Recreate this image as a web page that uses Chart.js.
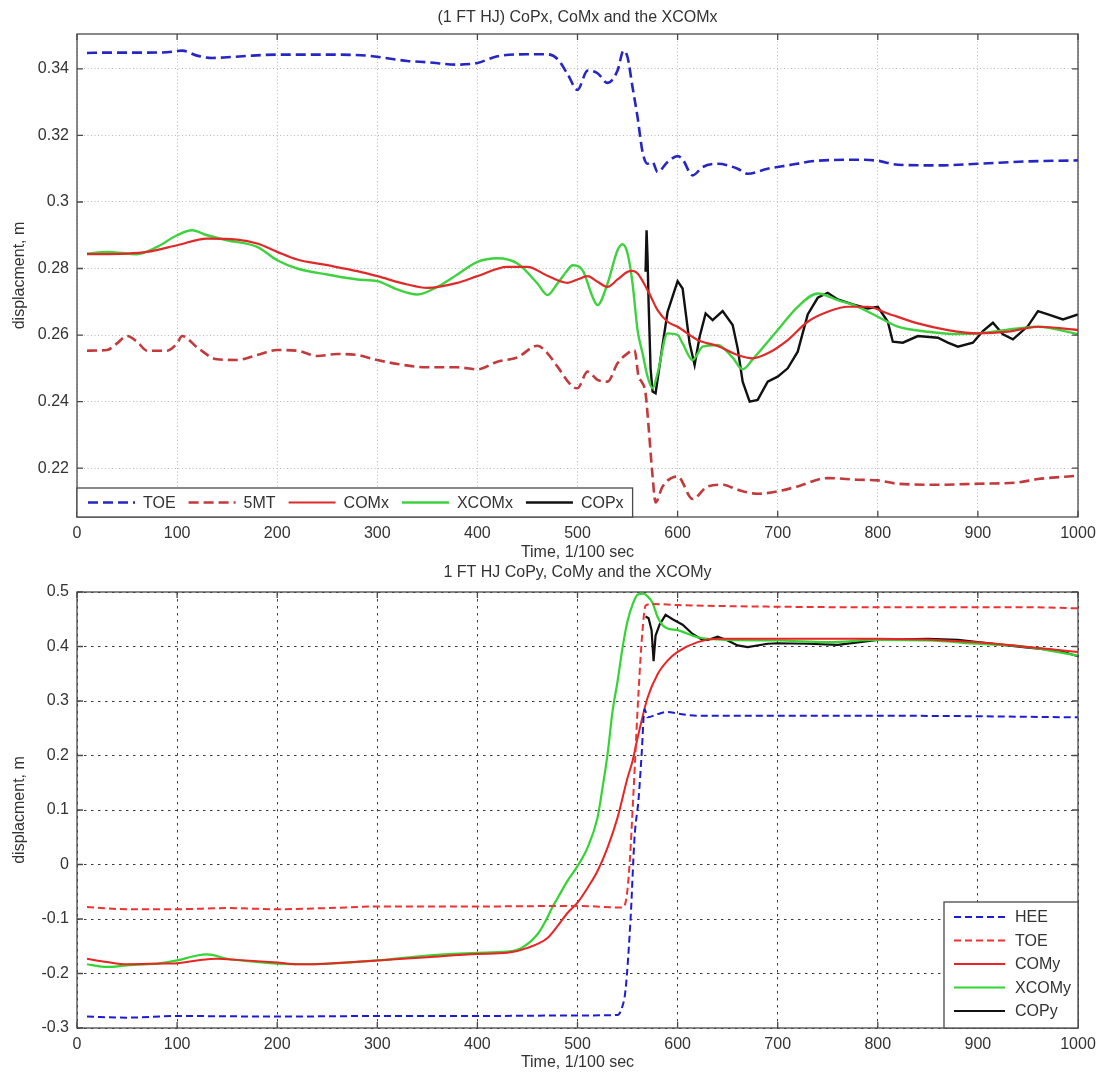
<!DOCTYPE html>
<html>
<head>
<meta charset="utf-8">
<title>CoP / CoM / XCoM displacement</title>
<script src="https://cdn.jsdelivr.net/npm/chart.js@4.4.1/dist/chart.umd.min.js"></script>
<style>
  html, body { margin: 0; padding: 0; background: #fff; }
  #wrap { position: relative; width: 1102px; height: 1072px; }
  canvas { position: absolute; left: 0; }
  #topChart { top: 0; }
  #bottomChart { top: 562px; }
</style>
</head>
<body>
<div id="wrap">
  <canvas id="topChart" width="1102" height="562"></canvas>
  <canvas id="bottomChart" width="1102" height="510"></canvas>
</div>
<script>
// ---- shared axis ----
const timeTicks = [0, 100, 200, 300, 400, 500, 600, 700, 800, 900, 1000];

// ---- top plot: x displacement ----
const topTicks = [0.22, 0.24, 0.26, 0.28, 0.30, 0.32, 0.34];

const toeXt = [10, 30, 60, 90, 105, 120, 135, 150, 175, 200, 250, 290, 310, 330, 350, 380, 400, 420, 450, 470, 480, 490, 500, 510, 520, 530, 540, 546, 550, 555, 560, 565, 570, 575, 580, 590, 600, 605, 615, 625, 640, 660, 670, 690, 710, 740, 780, 800, 820, 860, 900, 950, 1000];
const toeXv = [0.3448, 0.3449, 0.3449, 0.3450, 0.3455, 0.3440, 0.3433, 0.3435, 0.3440, 0.3443, 0.3443, 0.3440, 0.3432, 0.3424, 0.3420, 0.3413, 0.3418, 0.3438, 0.3444, 0.3444, 0.3430, 0.3385, 0.3337, 0.3395, 0.3387, 0.3358, 0.3395, 0.3455, 0.3435, 0.3345, 0.3255, 0.3150, 0.3115, 0.3120, 0.3090, 0.3120, 0.3138, 0.3128, 0.3080, 0.3105, 0.3115, 0.3100, 0.3085, 0.3100, 0.3110, 0.3124, 0.3127, 0.3124, 0.3112, 0.3110, 0.3115, 0.3122, 0.3125];

const mt5t = [10, 30, 40, 50, 60, 70, 90, 100, 105, 120, 140, 160, 180, 200, 220, 240, 260, 280, 300, 320, 350, 380, 400, 420, 440, 460, 470, 480, 495, 500, 510, 520, 530, 540, 550, 557, 561, 564, 568, 571, 575, 578, 585, 600, 615, 630, 645, 660, 680, 700, 720, 750, 780, 800, 820, 860, 900, 940, 960, 1000];
const mt5v = [0.2553, 0.2555, 0.2575, 0.2597, 0.2580, 0.2553, 0.2553, 0.2575, 0.2597, 0.2563, 0.2527, 0.2525, 0.2540, 0.2555, 0.2553, 0.2537, 0.2543, 0.2540, 0.2525, 0.2513, 0.2503, 0.2503, 0.2497, 0.2520, 0.2533, 0.2568, 0.2545, 0.2505, 0.2445, 0.2440, 0.2490, 0.2465, 0.2460, 0.2515, 0.2545, 0.2555, 0.2475, 0.2460, 0.2425, 0.2325, 0.2175, 0.2097, 0.2145, 0.2175, 0.2107, 0.2145, 0.2150, 0.2135, 0.2123, 0.2130, 0.2145, 0.2170, 0.2165, 0.2163, 0.2153, 0.2150, 0.2153, 0.2157, 0.2167, 0.2177];

const comXt = [10, 50, 70, 100, 130, 160, 180, 200, 220, 250, 280, 300, 330, 350, 380, 400, 430, 450, 470, 490, 500, 510, 520, 530, 540, 550, 555, 560, 570, 580, 590, 600, 620, 640, 660, 675, 690, 710, 730, 750, 770, 790, 810, 840, 870, 900, 930, 960, 1000];
const comXv = [0.2843, 0.2845, 0.2850, 0.2870, 0.2890, 0.2887, 0.2875, 0.2850, 0.2827, 0.2810, 0.2792, 0.2777, 0.2752, 0.2742, 0.2757, 0.2777, 0.2805, 0.2805, 0.2778, 0.2757, 0.2767, 0.2777, 0.2760, 0.2745, 0.2767, 0.2790, 0.2793, 0.2785, 0.2735, 0.2675, 0.2640, 0.2625, 0.2585, 0.2567, 0.2540, 0.2530, 0.2545, 0.2585, 0.2640, 0.2670, 0.2685, 0.2685, 0.2665, 0.2635, 0.2615, 0.2605, 0.2610, 0.2625, 0.2615];

const xcomXt = [10, 30, 60, 80, 100, 115, 130, 150, 180, 200, 220, 250, 280, 300, 320, 340, 360, 380, 400, 420, 440, 460, 470, 480, 490, 495, 505, 515, 520, 530, 540, 545, 550, 555, 560, 565, 570, 575, 580, 590, 600, 605, 615, 625, 640, 655, 665, 675, 700, 720, 740, 760, 780, 800, 820, 850, 880, 900, 940, 960, 1000];
const xcomXv = [0.2845, 0.2850, 0.2843, 0.2865, 0.2900, 0.2915, 0.2900, 0.2885, 0.2865, 0.2825, 0.2800, 0.2782, 0.2767, 0.2762, 0.2737, 0.2722, 0.2745, 0.2782, 0.2820, 0.2831, 0.2815, 0.2755, 0.2720, 0.2755, 0.2795, 0.2810, 0.2795, 0.2715, 0.2690, 0.2755, 0.2855, 0.2873, 0.2845, 0.2755, 0.2615, 0.2545, 0.2475, 0.2440, 0.2485, 0.2605, 0.2600, 0.2575, 0.2525, 0.2565, 0.2570, 0.2532, 0.2497, 0.2527, 0.2615, 0.2685, 0.2725, 0.2705, 0.2685, 0.2655, 0.2625, 0.2610, 0.2603, 0.2605, 0.2620, 0.2625, 0.2603];

const copXt = [568, 569, 570, 571, 573, 575, 578, 585, 590, 600, 605, 612, 617, 622, 628, 635, 645, 655, 660, 665, 672, 680, 690, 700, 710, 720, 730, 740, 750, 760, 775, 790, 800, 810, 815, 825, 840, 860, 870, 880, 895, 905, 915, 925, 935, 950, 960, 970, 985, 1000];
const copXv = [0.2790, 0.2915, 0.2830, 0.2700, 0.2500, 0.2430, 0.2425, 0.2570, 0.2670, 0.2762, 0.2740, 0.2575, 0.2510, 0.2595, 0.2665, 0.2645, 0.2672, 0.2630, 0.2560, 0.2460, 0.2400, 0.2405, 0.2460, 0.2475, 0.2500, 0.2550, 0.2662, 0.2712, 0.2727, 0.2707, 0.2692, 0.2680, 0.2685, 0.2640, 0.2580, 0.2577, 0.2597, 0.2592, 0.2577, 0.2565, 0.2577, 0.2612, 0.2637, 0.2602, 0.2587, 0.2627, 0.2672, 0.2662, 0.2647, 0.2662];

// ---- bottom plot: y displacement ----
const bottomTicks = [-0.3, -0.2, -0.1, 0, 0.1, 0.2, 0.3, 0.4, 0.5];

const heeT = [10, 50, 100, 200, 300, 400, 500, 540, 544, 548, 553, 557, 561, 564, 567, 570, 580, 590, 600, 620, 700, 800, 900, 1000];
const heeV = [-0.279, -0.281, -0.278, -0.279, -0.278, -0.278, -0.277, -0.276, -0.265, -0.23, -0.10, 0.05, 0.12, 0.20, 0.285, 0.27, 0.276, 0.280, 0.277, 0.273, 0.273, 0.273, 0.272, 0.270];

const toeYt = [10, 50, 100, 150, 200, 250, 300, 400, 500, 545, 549, 552, 556, 561, 565, 568, 575, 600, 700, 800, 900, 950, 1000];
const toeYv = [-0.078, -0.082, -0.082, -0.080, -0.082, -0.080, -0.077, -0.077, -0.076, -0.079, -0.06, 0.0, 0.135, 0.318, 0.43, 0.475, 0.478, 0.476, 0.473, 0.472, 0.472, 0.472, 0.470];

const comYt = [10, 30, 50, 80, 100, 120, 140, 160, 200, 220, 250, 300, 350, 400, 430, 450, 470, 480, 490, 500, 510, 520, 530, 540, 550, 555, 560, 570, 580, 590, 600, 620, 640, 700, 800, 900, 950, 1000];
const comYv = [-0.173, -0.179, -0.183, -0.182, -0.181, -0.176, -0.173, -0.175, -0.180, -0.183, -0.182, -0.176, -0.170, -0.164, -0.162, -0.153, -0.135, -0.113, -0.089, -0.070, -0.043, -0.012, 0.031, 0.086, 0.159, 0.19, 0.232, 0.306, 0.349, 0.374, 0.390, 0.408, 0.414, 0.414, 0.414, 0.408, 0.399, 0.390];

const xcomYt = [10, 30, 50, 80, 100, 120, 130, 150, 180, 200, 230, 250, 300, 350, 400, 430, 445, 460, 470, 475, 480, 490, 500, 510, 520, 525, 530, 535, 540, 545, 550, 555, 560, 566, 570, 575, 580, 585, 590, 600, 620, 650, 700, 750, 800, 850, 900, 950, 1000];
const xcomYv = [-0.183, -0.188, -0.185, -0.182, -0.176, -0.167, -0.165, -0.173, -0.179, -0.182, -0.183, -0.182, -0.176, -0.167, -0.162, -0.160, -0.152, -0.128, -0.097, -0.078, -0.062, -0.030, -0.003, 0.031, 0.086, 0.141, 0.202, 0.281, 0.336, 0.398, 0.447, 0.477, 0.495, 0.497, 0.492, 0.480, 0.454, 0.439, 0.433, 0.430, 0.417, 0.412, 0.411, 0.408, 0.412, 0.411, 0.405, 0.399, 0.383];

const copYt = [568, 571, 574, 576, 578, 582, 588, 595, 605, 615, 625, 630, 640, 650, 660, 670, 690, 700, 730, 760, 800, 850, 880, 900, 950, 980, 1000];
const copYv = [0.455, 0.452, 0.43, 0.373, 0.42, 0.44, 0.458, 0.450, 0.440, 0.423, 0.412, 0.412, 0.418, 0.411, 0.402, 0.399, 0.405, 0.406, 0.405, 0.403, 0.412, 0.414, 0.412, 0.408, 0.398, 0.393, 0.382];

const FONT = '"Liberation Sans", Arial, sans-serif';
const TEXT = '#333';
const FS = 16;
Chart.defaults.font.family = FONT;
Chart.defaults.color = TEXT;

function pts(xs, ys) {
    return xs.map((x, i) => ({ x: x, y: ys[i] }));
}

function series(label, xs, ys, color, width, dash, monotone) {
    return {
        label: label,
        data: pts(xs, ys),
        borderColor: color,
        borderWidth: width,
        borderDash: dash || [],
        pointRadius: 0,
        fill: false,
        cubicInterpolationMode: monotone === false ? 'default' : 'monotone',
        tension: monotone === false ? 0 : 0.4,
    };
}

const fmt = v => String(+Number(v).toFixed(3));

// frame, inward ticks, centred title and a MATLAB-like legend box
const framePlugin = {
    id: 'frame',
    afterDraw(chart, args, opts) {
        const { ctx, chartArea: a } = chart;
        const sx = chart.scales.x, sy = chart.scales.y;
        ctx.save();
        ctx.strokeStyle = '#4a4a4a';
        ctx.lineWidth = 1.3;
        ctx.setLineDash([]);
        ctx.strokeRect(a.left, a.top, a.right - a.left, a.bottom - a.top);
        ctx.beginPath();
        sx.ticks.forEach(t => {
            const p = sx.getPixelForValue(t.value);
            ctx.moveTo(p, a.bottom); ctx.lineTo(p, a.bottom - 6);
            ctx.moveTo(p, a.top); ctx.lineTo(p, a.top + 6);
        });
        sy.ticks.forEach(t => {
            const p = sy.getPixelForValue(t.value);
            ctx.moveTo(a.left, p); ctx.lineTo(a.left + 6, p);
            ctx.moveTo(a.right, p); ctx.lineTo(a.right - 6, p);
        });
        ctx.stroke();

        ctx.fillStyle = TEXT;
        ctx.font = FS + 'px ' + FONT;
        ctx.textAlign = 'center';
        ctx.textBaseline = 'middle';
        ctx.fillText(opts.title, (a.left + a.right) / 2, opts.titleY);

        // legend
        const ds = chart.data.datasets;
        const sample = opts.legend === 'row' ? 47 : 51;
        const gapText = opts.legend === 'row' ? 8 : 10;
        const gapItem = 13;
        ctx.textAlign = 'left';
        let bx, by, bw, bh;
        if (opts.legend === 'row') {
            bh = 29;
            bw = 11;
            ds.forEach(d => { bw += sample + gapText + ctx.measureText(d.label).width + gapItem; });
            bw -= 4;
            bx = a.left; by = a.bottom - bh;
        } else {
            bw = 134; bh = 126;
            bx = a.right - bw; by = a.bottom - bh;
        }
        ctx.fillStyle = '#fff';
        ctx.fillRect(bx, by, bw, bh);
        ctx.strokeStyle = '#4a4a4a';
        ctx.lineWidth = 1.3;
        ctx.strokeRect(bx, by, bw, bh);
        let x = bx + 11, y = by + bh / 2;
        ds.forEach((d, i) => {
            if (opts.legend !== 'row') { x = bx + 10; y = by + 15 + i * 23.5; }
            ctx.strokeStyle = d.borderColor;
            ctx.lineWidth = d.borderWidth;
            ctx.setLineDash(d.borderDash);
            ctx.beginPath();
            ctx.moveTo(x, y); ctx.lineTo(x + sample, y);
            ctx.stroke();
            ctx.setLineDash([]);
            ctx.fillStyle = TEXT;
            ctx.fillText(d.label, x + sample + gapText, y + 1);
            x += sample + gapText + ctx.measureText(d.label).width + gapItem;
        });
        ctx.restore();
    }
};

function makeChart(id, datasets, o) {
    return new Chart(document.getElementById(id).getContext('2d'), {
        type: 'line',
        data: { datasets: datasets },
        plugins: [framePlugin],
        options: {
            responsive: false,
            animation: false,
            devicePixelRatio: 1,
            layout: { padding: { left: 0, right: 24, top: o.padTop, bottom: 0 } },
            plugins: {
                legend: { display: false },
                tooltip: { enabled: false },
                frame: { title: o.title, titleY: o.titleY, legend: o.legend },
            },
            scales: {
                x: {
                    type: 'linear',
                    min: 0,
                    max: 1000,
                    afterBuildTicks: s => { s.ticks = timeTicks.map(v => ({ value: v })); },
                    afterFit: s => { s.height = o.xHeight; s.paddingLeft = 0; s.paddingRight = 0; },
                    grid: { color: o.gridColor, lineWidth: 1, drawTicks: false },
                    border: { display: false, dash: o.gridDash },
                    ticks: { padding: 7, maxRotation: 0, autoSkip: false, font: { size: FS }, color: TEXT, callback: v => String(v) },
                    title: { display: true, text: 'Time, 1/100 sec', font: { size: FS }, color: TEXT, padding: { top: 0, bottom: 0 } },
                },
                y: {
                    type: 'linear',
                    min: o.yMin,
                    max: o.yMax,
                    afterBuildTicks: s => { s.ticks = o.yTicks.map(v => ({ value: v })); },
                    afterFit: s => { s.width = 77; s.paddingTop = 0; s.paddingBottom = 0; },
                    grid: { color: o.gridColor, lineWidth: 1, drawTicks: false },
                    border: { display: false, dash: o.gridDash },
                    ticks: { padding: 8, autoSkip: false, font: { size: FS }, color: TEXT, callback: fmt },
                    title: { display: true, text: 'displacment, m', font: { size: FS }, color: TEXT, padding: { top: 10, bottom: 0 } },
                },
            },
        },
    });
}

const dashTop = [10, 5];
makeChart('topChart', [
    series('TOE', toeXt, toeXv, '#2626c4', 2.6, dashTop),
    series('5MT', mt5t, mt5v, '#c23a3c', 2.6, dashTop),
    series('COMx', comXt, comXv, '#e02a2a', 2.2),
    series('XCOMx', xcomXt, xcomXv, '#3fd23f', 2.4),
    series('COPx', copXt, copXv, '#111111', 2.4, null, false),
], {
    title: '(1 FT HJ) CoPx, CoMx and the XCOMx', titleY: 18, legend: 'row',
    padTop: 34, xHeight: 45, yMin: 0.2053, yMax: 0.3505, yTicks: topTicks,
    gridColor: '#b8b8b8', gridDash: [1, 2.5],
});

const dashBot = [7, 4];
makeChart('bottomChart', [
    series('HEE', heeT, heeV, '#1c1cd6', 2, dashBot),
    series('TOE', toeYt, toeYv, '#ee3232', 2, dashBot),
    series('COMy', comYt, comYv, '#ea2424', 2),
    series('XCOMy', xcomYt, xcomYv, '#33d433', 2.2),
    series('COPy', copYt, copYv, '#111111', 2.2, null, false),
], {
    title: '1 FT HJ CoPy, CoMy and the XCOMy', titleY: 11, legend: 'col',
    padTop: 30, xHeight: 44, yMin: -0.3, yMax: 0.5, yTicks: bottomTicks,
    gridColor: '#3c3c3c', gridDash: [2.5, 4.5],
});
</script>
</body>
</html>
